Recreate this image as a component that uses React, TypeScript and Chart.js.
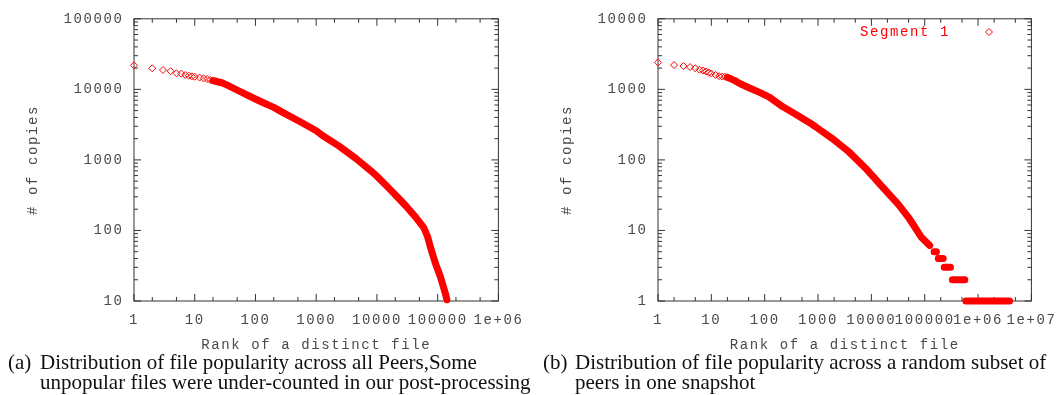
import React, { useEffect, useRef } from "react";
import { Chart, registerables } from "chart.js";

Chart.register(...registerables);

const FONT_FAMILY = "'Liberation Mono', 'DejaVu Sans Mono', monospace";
const AXIS_COLOR = "#333333";
const TEXT_COLOR = "#4a4a4a";
const RED = "#ff0000";

// ---------- Panel (a): all peers ----------
const headRanksA = [1, 2, 3, 4, 5, 6, 7, 8, 9, 10, 12, 14, 16, 18, 20, 22, 24];
const headCopiesA = [21900, 19900, 18800, 18100, 16900, 16700, 16000, 15600, 15300, 15100, 14700, 14300, 14000, 13600, 13300, 13000, 12700];
const bodyRanksA = [20, 28, 35, 45, 62, 90, 132, 200, 280, 526, 1000, 1270, 2380, 4480, 8280, 10000, 15700, 22900, 30000, 43000, 59000, 68000, 76000, 92000, 111000, 134000, 142000];
const bodyCopiesA = [13300, 12400, 11400, 10200, 8900, 7600, 6520, 5550, 4720, 3530, 2590, 2220, 1570, 1050, 680, 586, 398, 284, 222, 156, 110, 82, 58, 34, 22, 12.8, 10.4];
const xTickValuesA = [1, 10, 100, 1000, 10000, 100000, 1000000];
const xTickLabelsA = ["1", "10", "100", "1000", "10000", "100000", "1e+06"];
const yTickValuesA = [10, 100, 1000, 10000, 100000];
const yTickLabelsA = ["10", "100", "1000", "10000", "100000"];

// ---------- Panel (b): random subset of peers ----------
const headRanksB = [1, 2, 3, 4, 5, 6, 7, 8, 9, 10, 12, 14, 16, 18, 20, 22, 24];
const headCopiesB = [2410, 2210, 2140, 2070, 1990, 1900, 1850, 1790, 1720, 1680, 1600, 1540, 1520, 1510, 1480, 1440, 1400];
const bodyRanksB = [20, 27, 34, 52, 80, 122, 216, 380, 680, 900, 1800, 3750, 7700, 15600, 32000, 49000, 65000, 86500, 124000];
const bodyCopiesB = [1480, 1340, 1210, 1045, 905, 778, 570, 445, 340, 295, 204, 131, 77, 42.5, 23.5, 15.5, 11.2, 8, 6.1];
const stepLevelsB = [5, 4, 3, 2, 1];
const stepStartRanksB = [150000, 180000, 232000, 330000, 590000];
const stepEndRanksB = [166000, 222000, 304000, 565000, 3900000];
const xTickValuesB = [1, 10, 100, 1000, 10000, 100000, 1000000, 10000000];
const xTickLabelsB = ["1", "10", "100", "1000", "10000", "100000", "1e+06", "1e+07"];
const yTickValuesB = [1, 10, 100, 1000, 10000];
const yTickLabelsB = ["1", "10", "100", "1000", "10000"];

// ---------- Texts ----------
const xTitle = "Rank of a distinct file";
const yTitle = "# of copies";
const legendLabelB = "Segment 1";
const captionLabelA = "(a)";
const captionLinesA = [
  "Distribution of file popularity across all Peers,Some",
  "unpopular files were under-counted in our post-processing",
];
const captionLabelB = "(b)";
const captionLinesB = [
  "Distribution of file popularity across a random subset of",
  "peers in one snapshot",
];

function minorValues(majors: number[], mults: number[]) {
  const out: number[] = [];
  for (let i = 0; i < majors.length - 1; i++) {
    for (const m of mults) out.push(majors[i] * m);
  }
  return out;
}

const gnuFramePlugin = {
  id: "gnuFrame",
  beforeDraw(chart: any) {
    (chart.ctx as any).letterSpacing = "1.6px";
  },
  beforeDatasetsDraw(chart: any, _args: any, opts: any) {
    const { ctx, chartArea: a, scales } = chart;
    const xs = scales.x;
    const ys = scales.y;
    ctx.save();
    ctx.strokeStyle = AXIS_COLOR;
    ctx.lineWidth = 1;
    const line = (x1: number, y1: number, x2: number, y2: number) => {
      ctx.beginPath();
      ctx.moveTo(x1, y1);
      ctx.lineTo(x2, y2);
      ctx.stroke();
    };
    const major = 7;
    const minor = 4;
    for (const v of opts.xMajor) {
      const p = xs.getPixelForValue(v);
      line(p, a.bottom, p, a.bottom - major);
      line(p, a.top, p, a.top + major);
    }
    for (const v of minorValues(opts.xMajor, [2, 5])) {
      const p = xs.getPixelForValue(v);
      line(p, a.bottom, p, a.bottom - minor);
      line(p, a.top, p, a.top + minor);
    }
    for (const v of opts.yMajor) {
      const p = ys.getPixelForValue(v);
      line(a.left, p, a.left + major, p);
      line(a.right, p, a.right - major, p);
    }
    for (const v of minorValues(opts.yMajor, [2, 3, 4, 5, 6, 7, 8, 9])) {
      const p = ys.getPixelForValue(v);
      line(a.left, p, a.left + minor, p);
      line(a.right, p, a.right - minor, p);
    }
    ctx.strokeRect(a.left, a.top, a.right - a.left, a.bottom - a.top);
    ctx.restore();
  },
  afterDraw(chart: any, _args: any, opts: any) {
    if (!opts.legend) return;
    const { ctx } = chart;
    const L = opts.legend;
    ctx.save();
    (ctx as any).letterSpacing = "1.6px";
    ctx.font = `14px ${FONT_FAMILY}`;
    ctx.fillStyle = RED;
    ctx.textBaseline = "middle";
    ctx.textAlign = "left";
    ctx.fillText(L.text, L.textX, L.y);
    ctx.strokeStyle = RED;
    ctx.lineWidth = 1;
    ctx.beginPath();
    const r = 3.5;
    ctx.moveTo(L.markerX - r, L.y);
    ctx.lineTo(L.markerX, L.y - r);
    ctx.lineTo(L.markerX + r, L.y);
    ctx.lineTo(L.markerX, L.y + r);
    ctx.closePath();
    ctx.stroke();
    ctx.restore();
  },
};

type PanelCfg = {
  headRanks: number[];
  headCopies: number[];
  bodyRanks: number[];
  bodyCopies: number[];
  steps?: { levels: number[]; starts: number[]; ends: number[] };
  xValues: number[];
  xLabels: string[];
  yValues: number[];
  yLabels: string[];
  yAxisWidth: number;
  padRight: number;
  yTitlePad: number;
  legend?: any;
};

function buildChart(canvas: HTMLCanvasElement, c: PanelCfg) {
  const font = { family: FONT_FAMILY, size: 14 };
  const datasets: any[] = [
    {
      label: "head",
      data: c.headRanks.map((r, i) => ({ x: r, y: c.headCopies[i] })),
      showLine: false,
      pointStyle: "rectRot",
      pointRadius: 3.5,
      pointBorderWidth: 1,
      pointBorderColor: RED,
      pointBackgroundColor: "rgba(0,0,0,0)",
      clip: false,
    },
    {
      label: "body",
      data: c.bodyRanks.map((r, i) => ({ x: r, y: c.bodyCopies[i] })),
      showLine: true,
      borderColor: RED,
      borderWidth: 7,
      borderCapStyle: "round",
      borderJoinStyle: "round",
      pointRadius: 0,
      tension: 0,
      clip: false,
    },
  ];
  if (c.steps) {
    const pts: any[] = [];
    c.steps.levels.forEach((lvl, i) => {
      pts.push({ x: c.steps!.starts[i], y: lvl });
      pts.push({ x: c.steps!.ends[i], y: lvl });
      pts.push({ x: c.steps!.ends[i], y: null });
    });
    datasets.push({
      label: "steps",
      data: pts,
      showLine: true,
      spanGaps: false,
      borderColor: RED,
      borderWidth: 7,
      borderCapStyle: "round",
      pointRadius: 0,
      clip: false,
    });
  }
  return new Chart(canvas, {
    type: "scatter",
    data: { datasets },
    plugins: [gnuFramePlugin as any],
    options: {
      animation: false,
      responsive: false,
      events: [],
      layout: { padding: { left: 0, top: 16, right: c.padRight, bottom: 0 } },
      plugins: {
        legend: { display: false },
        tooltip: { enabled: false },
        gnuFrame: { xMajor: c.xValues, yMajor: c.yValues, legend: c.legend },
      } as any,
      scales: {
        x: {
          type: "logarithmic",
          position: "bottom",
          min: c.xValues[0],
          max: c.xValues[c.xValues.length - 1],
          grid: { display: false, drawTicks: false },
          border: { display: false },
          afterBuildTicks: (s: any) => {
            s.ticks = c.xValues.map((v) => ({ value: v }));
          },
          afterFit: (s: any) => {
            s.height = 54;
          },
          ticks: {
            color: TEXT_COLOR,
            font,
            padding: 10.6,
            maxRotation: 0,
            autoSkip: false,
            callback: (v: any) => c.xLabels[c.xValues.indexOf(Number(v))] ?? "",
          },
          title: {
            display: true,
            text: xTitle,
            color: TEXT_COLOR,
            font,
            padding: { top: 0, bottom: 1.6 },
          },
        },
        y: {
          type: "logarithmic",
          position: "left",
          min: c.yValues[0],
          max: c.yValues[c.yValues.length - 1],
          grid: { display: false, drawTicks: false },
          border: { display: false },
          afterBuildTicks: (s: any) => {
            s.ticks = c.yValues.map((v) => ({ value: v }));
          },
          afterFit: (s: any) => {
            s.width = c.yAxisWidth;
          },
          ticks: {
            color: TEXT_COLOR,
            font,
            padding: 10.4,
            autoSkip: false,
            callback: (v: any) => c.yLabels[c.yValues.indexOf(Number(v))] ?? "",
          },
          title: {
            display: true,
            text: yTitle,
            color: TEXT_COLOR,
            font,
            padding: { top: c.yTitlePad, bottom: 0 },
          },
        },
      },
    } as any,
  });
}

function Panel({ cfg, left, width }: { cfg: PanelCfg; left: number; width: number }) {
  const ref = useRef<HTMLCanvasElement | null>(null);
  useEffect(() => {
    if (!ref.current) return;
    const chart = buildChart(ref.current, cfg);
    return () => chart.destroy();
  }, []);
  return (
    <canvas
      ref={ref}
      width={width}
      height={355}
      style={{ position: "absolute", left, top: 0, width, height: 355 }}
    />
  );
}

const captionStyle: React.CSSProperties = {
  position: "absolute",
  fontFamily: "'Liberation Serif', 'Times New Roman', serif",
  fontSize: "21px",
  lineHeight: "20px",
  color: "#111",
  whiteSpace: "nowrap",
};

export default function App() {
  const cfgA: PanelCfg = {
    headRanks: headRanksA,
    headCopies: headCopiesA,
    bodyRanks: bodyRanksA,
    bodyCopies: bodyCopiesA,
    xValues: xTickValuesA,
    xLabels: xTickLabelsA,
    yValues: yTickValuesA,
    yLabels: yTickLabelsA,
    yAxisWidth: 134,
    padRight: 30,
    yTitlePad: 24.6,
  };
  const cfgB: PanelCfg = {
    headRanks: headRanksB,
    headCopies: headCopiesB,
    bodyRanks: bodyRanksB,
    bodyCopies: bodyCopiesB,
    steps: { levels: stepLevelsB, starts: stepStartRanksB, ends: stepEndRanksB },
    xValues: xTickValuesB,
    xLabels: xTickLabelsB,
    yValues: yTickValuesB,
    yLabels: yTickLabelsB,
    yAxisWidth: 128,
    padRight: 29,
    yTitlePad: 28.6,
    legend: { text: legendLabelB, textX: 330, markerX: 459, y: 32 },
  };
  return (
    <div style={{ position: "absolute", left: 0, top: 0, width: 1063, height: 395, background: "#fff", overflow: "hidden" }}>
      <Panel cfg={cfgA} left={0} width={530} />
      <Panel cfg={cfgB} left={530} width={533} />
      <div style={{ ...captionStyle, left: 8, top: 352 }}>{captionLabelA}</div>
      <div style={{ ...captionStyle, left: 40, top: 352 }}>
        {captionLinesA[0]}
        <br />
        {captionLinesA[1]}
      </div>
      <div style={{ ...captionStyle, left: 543, top: 352 }}>{captionLabelB}</div>
      <div style={{ ...captionStyle, left: 575, top: 352 }}>
        {captionLinesB[0]}
        <br />
        {captionLinesB[1]}
      </div>
    </div>
  );
}
